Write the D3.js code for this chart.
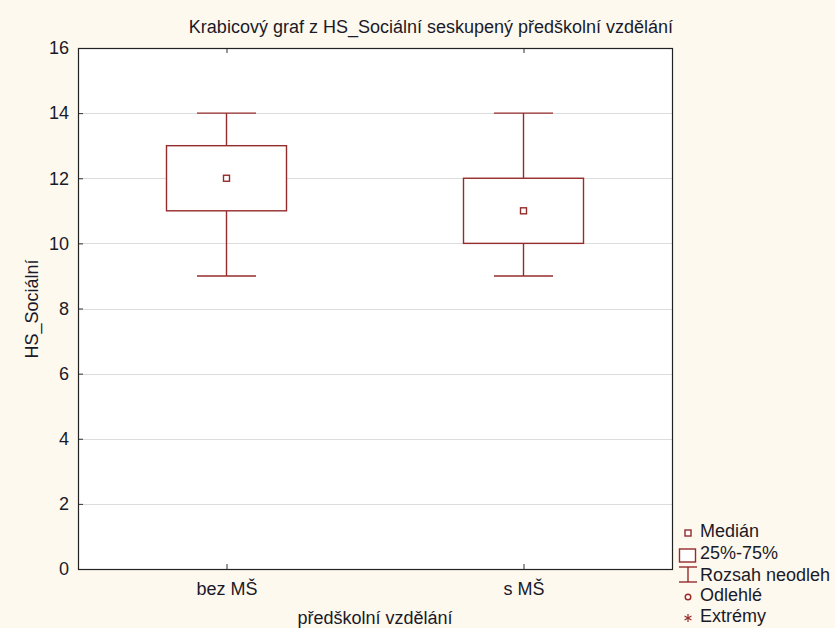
<!DOCTYPE html>
<html><head><meta charset="utf-8">
<script src="https://cdn.jsdelivr.net/npm/d3@7"></script>
<style>
html,body{margin:0;padding:0;background:#fef9ee;}
svg{display:block;font-family:"Liberation Sans",Arial,sans-serif;}
</style></head>
<body>
<svg id="chart" width="835" height="628"></svg>
<script>
const categories = ["bez MŠ", "s MŠ"];
const minValues = [9, 9];
const q1Values = [11, 10];
const medianValues = [12, 11];
const q3Values = [13, 12];
const maxValues = [14, 14];
const yTicks = [0, 2, 4, 6, 8, 10, 12, 14, 16];
const legendLabels = ["Medián", "25%-75%", "Rozsah neodleh", "Odlehlé", "Extrémy"];

const W = 835, H = 628;
const FONT = "Liberation Sans, Arial, sans-serif";
const m = {left: 78, right: 672, top: 48, bottom: 569};
const col = "#952b2b";
const txt = "#1a1a2a";
const svg = d3.select("#chart");
svg.append("rect").attr("width", W).attr("height", H).attr("fill", "#fef9ee");

const x = d3.scalePoint().domain(categories).range([m.left, m.right]).padding(0.5);
const y = d3.scaleLinear().domain([0, 16]).range([m.bottom, m.top]);

svg.append("rect").attr("x", m.left).attr("y", m.top)
  .attr("width", m.right - m.left).attr("height", m.bottom - m.top).attr("fill", "#fff");

// gridlines
svg.append("g").selectAll("line").data(yTicks.slice(1, -1)).join("line")
  .attr("x1", m.left).attr("x2", m.right)
  .attr("y1", d => Math.round(y(d)) + 0.5).attr("y2", d => Math.round(y(d)) + 0.5)
  .attr("stroke", "#dcdcdc").attr("stroke-width", 1);

// axes
const yAxis = svg.append("g").attr("transform", `translate(${m.left},0)`)
  .call(d3.axisLeft(y).tickValues(yTicks).tickSize(-5).tickPadding(9).tickFormat(d3.format("d")));
yAxis.attr("font-family", FONT);
yAxis.select(".domain").remove();
yAxis.selectAll("line").attr("stroke", "#333");
yAxis.selectAll("text").attr("font-size", 18).attr("fill", txt);

const xAxis = svg.append("g").attr("transform", `translate(0,${m.bottom})`)
  .call(d3.axisBottom(x).tickSize(-5).tickPadding(13));
xAxis.attr("font-family", FONT);
xAxis.select(".domain").remove();
xAxis.selectAll("line").attr("stroke", "#333");
xAxis.selectAll("text").attr("font-size", 18).attr("fill", txt);

const xTop = svg.append("g").attr("transform", `translate(0,${m.top})`)
  .call(d3.axisTop(x).tickSize(-5).tickFormat(""));
xTop.select(".domain").remove();
xTop.selectAll("line").attr("stroke", "#333");

// frame
svg.append("rect").attr("x", m.left + 0.5).attr("y", m.top + 0.5)
  .attr("width", m.right - m.left).attr("height", m.bottom - m.top)
  .attr("fill", "none").attr("stroke", "#222").attr("stroke-width", 1.2);

// boxes
const boxW = 120, capW = 59;
const data = categories.map((c, i) => ({c, min: minValues[i], q1: q1Values[i], med: medianValues[i], q3: q3Values[i], max: maxValues[i]}));
const g = svg.append("g").selectAll("g").data(data).join("g");
g.append("line").attr("x1", d => x(d.c)).attr("x2", d => x(d.c))
  .attr("y1", d => y(d.max)).attr("y2", d => y(d.q3)).attr("stroke", col).attr("stroke-width", 1.4);
g.append("line").attr("x1", d => x(d.c)).attr("x2", d => x(d.c))
  .attr("y1", d => y(d.q1)).attr("y2", d => y(d.min)).attr("stroke", col).attr("stroke-width", 1.4);
g.append("line").attr("x1", d => x(d.c) - capW / 2).attr("x2", d => x(d.c) + capW / 2)
  .attr("y1", d => y(d.max)).attr("y2", d => y(d.max)).attr("stroke", col).attr("stroke-width", 1.4);
g.append("line").attr("x1", d => x(d.c) - capW / 2).attr("x2", d => x(d.c) + capW / 2)
  .attr("y1", d => y(d.min)).attr("y2", d => y(d.min)).attr("stroke", col).attr("stroke-width", 1.4);
g.append("rect").attr("x", d => x(d.c) - boxW / 2).attr("width", boxW)
  .attr("y", d => y(d.q3)).attr("height", d => y(d.q1) - y(d.q3))
  .attr("fill", "#fff").attr("stroke", col).attr("stroke-width", 1.4);
g.append("rect").attr("x", d => x(d.c) - 3).attr("y", d => y(d.med) - 3)
  .attr("width", 6).attr("height", 6).attr("fill", "#fff").attr("stroke", col).attr("stroke-width", 1.4);

// titles
svg.append("text").attr("x", 431).attr("y", 33).attr("text-anchor", "middle")
  .attr("font-size", 18).attr("fill", txt).text("Krabicový graf z HS_Sociální seskupený předškolní vzdělání");
svg.append("text").attr("transform", `translate(38,309) rotate(-90)`)
  .attr("text-anchor", "middle").attr("font-size", 18).attr("fill", txt).text("HS_Sociální");
svg.append("text").attr("x", 375).attr("y", 624).attr("text-anchor", "middle")
  .attr("font-size", 18).attr("fill", txt).text("předškolní vzdělání");

// legend
const lx = 688;
const baselines = [537, 559, 581, 601, 622];
const centers = [533, 555.5, 574.5, 597, 618];
const lg = svg.append("g");
lg.selectAll("text").data(legendLabels).join("text")
  .attr("x", 700).attr("y", (d, i) => baselines[i]).attr("font-size", 18).attr("fill", txt).text(d => d);
lg.append("rect").attr("x", lx - 3).attr("y", centers[0] - 3).attr("width", 6).attr("height", 6)
  .attr("fill", "#fff").attr("stroke", col).attr("stroke-width", 1.4);
lg.append("rect").attr("x", lx - 8.5).attr("y", centers[1] - 6.5).attr("width", 16).attr("height", 13)
  .attr("fill", "#fff").attr("stroke", col).attr("stroke-width", 1.4);
lg.append("line").attr("x1", lx).attr("x2", lx).attr("y1", centers[2] - 7.5).attr("y2", centers[2] + 7.5).attr("stroke", col).attr("stroke-width", 1.4);
lg.append("line").attr("x1", lx - 9).attr("x2", lx + 9).attr("y1", centers[2] - 7.5).attr("y2", centers[2] - 7.5).attr("stroke", col).attr("stroke-width", 1.4);
lg.append("line").attr("x1", lx - 9).attr("x2", lx + 9).attr("y1", centers[2] + 7.5).attr("y2", centers[2] + 7.5).attr("stroke", col).attr("stroke-width", 1.4);
lg.append("circle").attr("cx", lx).attr("cy", centers[3]).attr("r", 2.8).attr("fill", "none").attr("stroke", col).attr("stroke-width", 1.4);
const ast = lg.append("g").attr("transform", `translate(${lx},${centers[4]})`);
[0, 60, 120].forEach(a => {
  const r = a * Math.PI / 180, L = 4;
  ast.append("line").attr("x1", -L * Math.sin(r)).attr("y1", -L * Math.cos(r))
    .attr("x2", L * Math.sin(r)).attr("y2", L * Math.cos(r)).attr("stroke", col).attr("stroke-width", 1.2);
});
</script>
</body></html>
